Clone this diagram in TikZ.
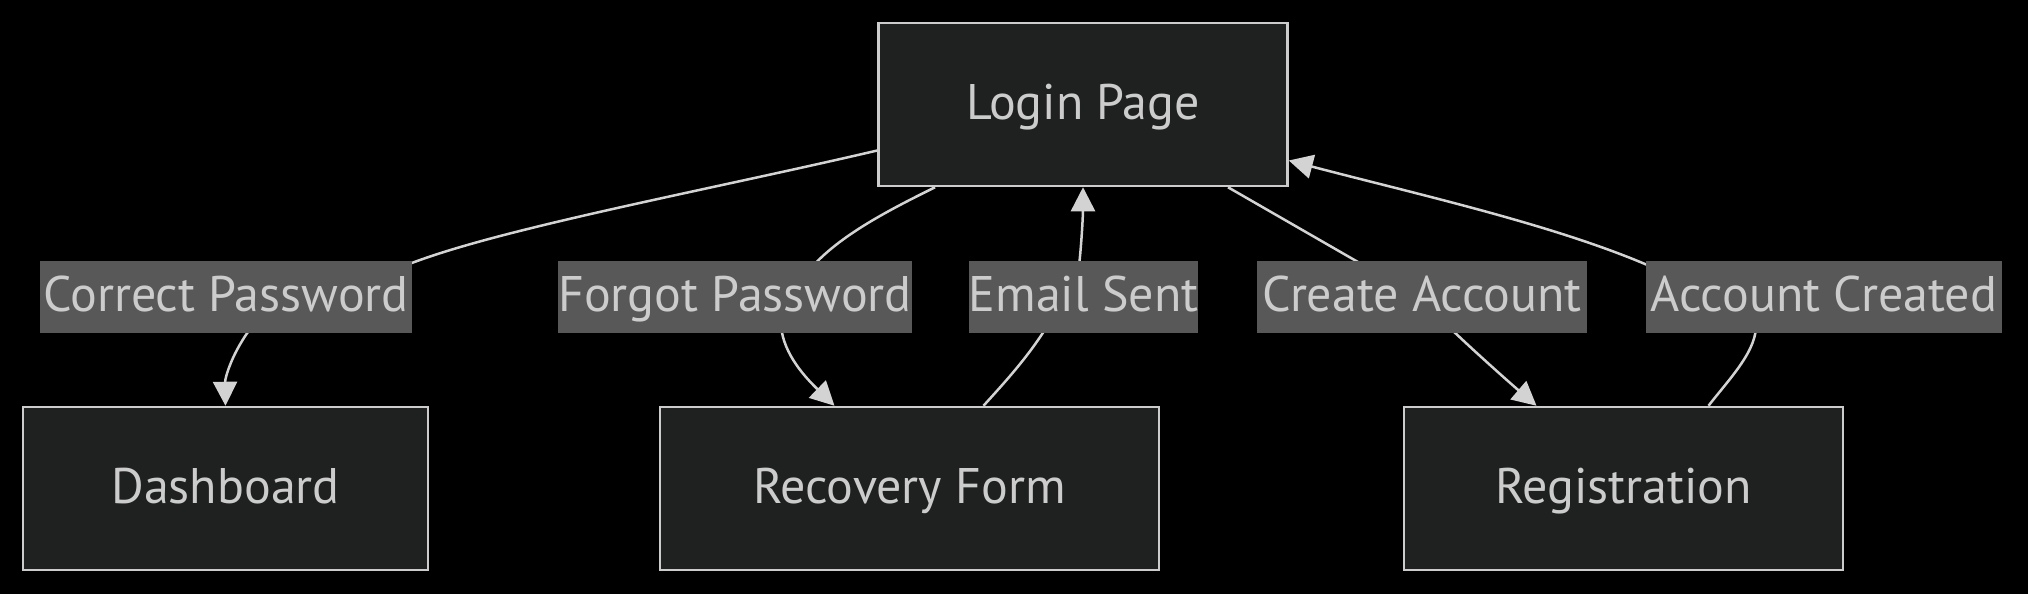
\documentclass[tikz,border=0pt]{standalone}
\usepackage{fontspec}
\setmainfont{PT Sans}
\usetikzlibrary{arrows.meta,calc,backgrounds}
\definecolor{boxfill}{HTML}{1F2020}
\definecolor{boxline}{HTML}{CCCCCC}
\definecolor{lblfill}{HTML}{585858}
\definecolor{txt}{HTML}{CCCCCC}
\definecolor{edgecol}{HTML}{D3D3D3}
\tikzset{
  txtstyle/.style={text=txt, font=\fontsize{50}{54}\selectfont, text height=37pt, text depth=8pt},
  box/.style={txtstyle, draw=boxline, fill=boxfill, line width=2.5pt, minimum height=163pt, inner sep=0pt},
  lbl/.style={txtstyle, fill=lblfill, minimum height=72pt, inner sep=0pt},
  edgeline/.style={draw=edgecol, line width=2.5pt},
  arr/.style={edgeline, -{Triangle[length=24pt,width=24pt]}}
}
\begin{document}
\begin{tikzpicture}[x=1pt,y=-1pt]
\useasboundingbox (0,0) rectangle (2028,594);
% nodes
\node[box, minimum width=409pt] (login) at (1083,104.5) {Login Page};
\node[box, minimum width=405pt] (dash) at (225.5,488.5) {Dashboard};
\node[box, minimum width=499pt] (rec) at (909.5,488.5) {Recovery Form};
\node[box, minimum width=439pt] (reg) at (1623.5,488.5) {Registration};
% labels
\node[lbl, minimum width=372pt] (cp) at (226,297) {Correct Password};
\node[lbl, minimum width=348pt] (fp) at (735,297) {Forgot Password};
\node[lbl, minimum width=228pt] (es) at (1083.5,297) {Email Sent};
\node[lbl, minimum width=330pt] (ca) at (1422,297) {Create Account};
\node[lbl, minimum width=356pt] (ac) at (1824,297) {Account Created};
\begin{scope}[on background layer]
\fill[black] (0,0) rectangle (2028,594);
% Login -> Correct Password -> Dashboard
\draw[edgeline] ($(login.west)+(0,46)$) .. controls (700,192) and (480,232) .. ($(cp.north east)+(-17,9)$);
\draw[arr] ($(cp.south)+(27,-8)$) .. controls (232,352) and (225,378) .. (dash.north);
% Login -> Forgot Password -> Recovery Form
\draw[edgeline] ($(login.south)+(-148,0)$) .. controls (885,212) and (835,238) .. ($(fp.north)+(72,12)$);
\draw[arr] ($(fp.south)+(46,-8)$) .. controls (783,355) and (808,380) .. ($(rec.north)+(-75,0)$);
% Recovery Form -> Email Sent -> Login
\draw[edgeline] ($(rec.north)+(74,0)$) .. controls (1005,382) and (1030,355) .. ($(es.south)+(-34,-11)$);
\draw[arr] ($(es.north)+(-5,10)$) .. controls (1082,240) and (1083,212) .. (login.south);
% Login -> Create Account -> Registration
\draw[edgeline] ($(login.south)+(145,0)$) -- ($(ca.north)+(-54,7)$);
\draw[arr] ($(ca.south)+(25,-8)$) .. controls (1475,352) and (1510,383) .. ($(reg.north)+(-87,0)$);
% Registration -> Account Created -> Login
\draw[edgeline] ($(reg.north)+(85,0)$) .. controls (1730,378) and (1758,350) .. ($(ac.south)+(-68,-11)$);
\draw[arr] ($(ac.north)+(-168,8)$) .. controls (1560,226) and (1420,195) .. ($(login.east)+(0,56)$);
\end{scope}
\end{tikzpicture}
\end{document}
